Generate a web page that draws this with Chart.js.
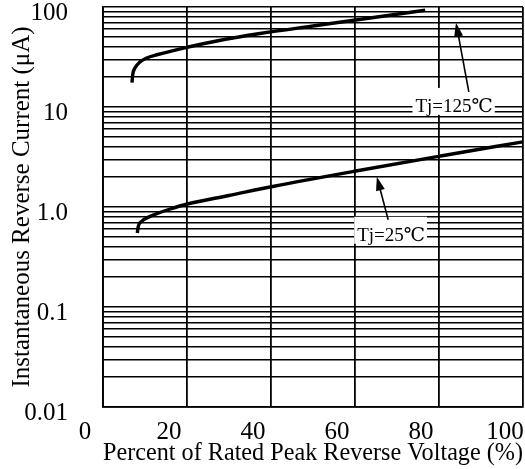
<!DOCTYPE html>
<html>
<head>
<meta charset="utf-8">
<script src="https://cdn.jsdelivr.net/npm/chart.js@4.4.1/dist/chart.umd.min.js"></script>
<style>
  html, body { margin: 0; padding: 0; background: #fff; }
  #wrap { width: 525px; height: 469px; position: relative; }
</style>
</head>
<body>
<div id="wrap"><canvas id="c"></canvas></div>
<script>
// ---- data ----
const voltage125 = [6.9, 7.07, 7.6, 8.8, 10.4, 12.8, 20.3, 27.1, 37.4, 50, 60.2, 76.7];
const current125 = [17.5, 21.0, 24.5, 28.2, 30.9, 33.3, 39.8, 45.7, 54.3, 64.6, 74.1, 92.7];
const voltage25 = [8.17, 8.4, 9.2, 10.4, 12.8, 16.0, 20.1, 30, 40.4, 60.2, 80.4, 100];
const current25 = [0.55, 0.64, 0.718, 0.776, 0.857, 0.955, 1.072, 1.303, 1.603, 2.29, 3.236, 4.487];
const xTicks = [0, 20, 40, 60, 80, 100];
const yDecades = [0.01, 0.1, 1, 10, 100];
const yDecadeLabels = ['0.01', '0.1', '1.0', '10', '100'];
const seriesNames = ['Tj=125℃', 'Tj=25℃'];
const xTitle = 'Percent of Rated Peak Reverse Voltage (%)';
const yTitle = 'Instantaneous Reverse Current (μA)';

// callouts (data coordinates)
const callouts = [
  { text: seriesNames[0], x: 83.6, y: 10.5, tailX: 87.1, tailY: 14.2, tipX: 84.05, tipY: 69.7 },
  { text: seriesNames[1], x: 68.6, y: 0.54, tailX: 67.9, tailY: 0.746, tipX: 65.2, tipY: 2.01 }
];

const FONT = "'Liberation Serif', 'Times New Roman', 'DejaVu Serif', serif";
Chart.defaults.font.family = FONT;
Chart.defaults.color = '#000';

function toPoints(xs, ys) { return xs.map((x, i) => ({ x: x, y: ys[i] })); }

// build log grid ticks: 1..9 x each decade
function logGridTicks() {
  const t = [];
  for (let d = 0; d < yDecades.length - 1; d++) {
    for (let m = 1; m <= 9; m++) t.push(+(yDecades[d] * m).toPrecision(3));
  }
  t.push(yDecades[yDecades.length - 1]);
  return t;
}

const calloutPlugin = {
  id: 'callouts',
  afterDatasetsDraw(chart) {
    const ctx = chart.ctx;
    const xs = chart.scales.x, ys = chart.scales.y;
    ctx.save();
    ctx.font = '19px ' + FONT;
    callouts.forEach(c => {
      const cx = xs.getPixelForValue(c.x), cy = ys.getPixelForValue(c.y);
      const w = ctx.measureText(c.text).width;
      ctx.fillStyle = '#fff';
      ctx.fillRect(cx - w / 2 - 3, cy - 17, w + 5, 27);
      ctx.fillStyle = '#000';
      ctx.textAlign = 'center';
      ctx.textBaseline = 'alphabetic';
      ctx.fillText(c.text, cx, cy + 7);
      // arrow
      const x1 = xs.getPixelForValue(c.tailX), y1 = ys.getPixelForValue(c.tailY);
      const x2 = xs.getPixelForValue(c.tipX), y2 = ys.getPixelForValue(c.tipY);
      const ang = Math.atan2(y2 - y1, x2 - x1);
      const hl = 14, hw = 4.5;
      ctx.strokeStyle = '#000';
      ctx.lineWidth = 1.6;
      ctx.beginPath();
      ctx.moveTo(x1, y1);
      ctx.lineTo(x2 - Math.cos(ang) * hl * 0.8, y2 - Math.sin(ang) * hl * 0.8);
      ctx.stroke();
      ctx.beginPath();
      ctx.moveTo(x2, y2);
      ctx.lineTo(x2 - Math.cos(ang) * hl + Math.sin(ang) * hw, y2 - Math.sin(ang) * hl - Math.cos(ang) * hw);
      ctx.lineTo(x2 - Math.cos(ang) * hl - Math.sin(ang) * hw, y2 - Math.sin(ang) * hl + Math.cos(ang) * hw);
      ctx.closePath();
      ctx.fill();
    });
    ctx.restore();
  }
};

new Chart(document.getElementById('c'), {
  type: 'line',
  data: {
    datasets: [
      { label: seriesNames[0], data: toPoints(voltage125, current125) },
      { label: seriesNames[1], data: toPoints(voltage25, current25) }
    ]
  },
  options: {
    responsive: true,
    maintainAspectRatio: false,
    animation: false,
    devicePixelRatio: 1,
    layout: { padding: { top: 7, right: 2, left: 0, bottom: 0 } },
    elements: {
      line: { borderColor: '#000', borderWidth: 3.4, cubicInterpolationMode: 'monotone', fill: false, borderCapStyle: 'butt' },
      point: { radius: 0, hoverRadius: 0 }
    },
    plugins: { legend: { display: false }, tooltip: { enabled: false } },
    scales: {
      x: {
        type: 'linear', min: 0, max: 100,
        afterBuildTicks: s => { s.ticks = xTicks.map(v => ({ value: v })); },
        afterFit: s => { s.height = 62; s.paddingLeft = 0; s.paddingRight = 0; },
        grid: { color: '#000', lineWidth: 1.8, drawTicks: false },
        border: { color: '#000', width: 1.8 },
        ticks: { font: { size: 25 }, padding: 10, labelOffset: -18, maxRotation: 0, autoSkip: false },
        title: { display: true, text: xTitle, align: 'end', font: { size: 25.8 }, padding: { top: 0, bottom: 0 } }
      },
      y: {
        type: 'logarithmic', min: 0.01, max: 100,
        afterBuildTicks: s => { s.ticks = logGridTicks().map(v => ({ value: v })); },
        afterFit: s => { s.width = 103; s.paddingTop = 0; s.paddingBottom = 0; },
        grid: { color: '#000', lineWidth: 1.4, drawTicks: false },
        border: { color: '#000', width: 1.8 },
        ticks: {
          font: { size: 25 }, padding: 35, labelOffset: 6, autoSkip: false,
          callback: v => { const i = yDecades.findIndex(d => Math.abs(d - v) < d * 1e-6); return i >= 0 ? yDecadeLabels[i] : ''; }
        },
        title: { display: true, text: yTitle, font: { size: 25 }, padding: { top: 7, bottom: 0 } }
      }
    }
  },
  plugins: [calloutPlugin]
});
</script>
</body>
</html>
